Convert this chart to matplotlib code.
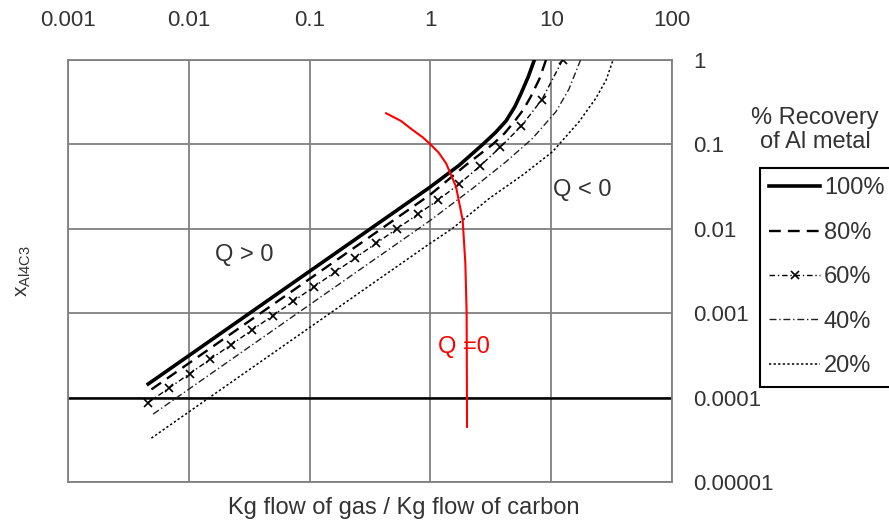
import matplotlib
matplotlib.use("Agg")
import matplotlib.pyplot as plt

plt.rcParams['font.family'] = ['Liberation Sans', 'DejaVu Sans']
plt.rcParams['mathtext.fontset'] = 'custom'
plt.rcParams['mathtext.rm'] = 'Liberation Sans'
plt.rcParams['mathtext.it'] = 'Liberation Sans'

TXT = '#333333'

# --- data ---
x100 = [0.00461, 0.01, 0.1, 1.0, 1.74, 2.71, 3.45, 4.23, 5.0, 5.62, 6.45, 7.25]
y100 = [1.45e-4, 3.14e-4, 3.14e-3, 0.0314, 0.057, 0.1, 0.138, 0.19, 0.28, 0.40, 0.63, 1.0]

x80 = [0.0049, 0.01, 0.1, 1.0, 1.97, 3.27, 4.1, 4.95, 5.9, 6.79, 8.0, 9.05]
y80 = [1.25e-4, 2.55e-4, 2.55e-3, 0.0255, 0.057, 0.1, 0.135, 0.186, 0.26, 0.37, 0.6, 1.0]

x60 = [0.00461, 0.00685, 0.01016, 0.01508, 0.02239, 0.03323, 0.04932,
       0.07318, 0.1086, 0.1612, 0.2393, 0.3552, 0.5272, 0.7824, 1.161,
       1.724, 2.559, 3.797, 5.636, 8.365, 12.42]
y60 = [8.73e-5, 1.296e-4, 1.923e-4, 2.854e-4, 4.236e-4, 6.288e-4, 9.33e-4,
       1.385e-3, 2.056e-3, 3.05e-3, 4.53e-3, 6.72e-3, 9.98e-3, 0.0148, 0.022,
       0.0339, 0.055, 0.093, 0.164, 0.339, 1.0]

x40 = [0.00507, 0.0316, 0.1, 0.316, 1.0, 2.24, 4.23, 7.01, 10.94, 14.0, 17.5]
y40 = [6.38e-5, 3.98e-4, 1.26e-3, 3.98e-3, 0.0126, 0.0302, 0.0624, 0.118, 0.244, 0.45, 1.0]

x20 = [0.0049, 0.0316, 0.1, 0.316, 1.0, 1.528, 3.076, 5.794, 10.26, 17.0, 23.4, 28.5, 32.5]
y20 = [3.31e-5, 2.14e-4, 6.76e-4, 2.14e-3, 6.76e-3, 0.01014, 0.02296, 0.04335,
       0.082, 0.1858, 0.3516, 0.58, 1.0]

# Q = 0 boundary (red)
xq = [0.430, 0.570, 0.714, 0.860, 0.982, 1.17, 1.349, 1.63, 1.85, 1.946, 1.995, 2.01]
yq = [0.234, 0.19, 0.148, 0.122, 0.103, 0.080, 0.0597, 0.0315, 0.0127, 3.94e-3, 1.0e-3, 4.5e-5]

xticks = [0.001, 0.01, 0.1, 1, 10, 100]
xtick_labels = ['0.001', '0.01', '0.1', '1', '10', '100']
yticks = [1e-5, 1e-4, 1e-3, 1e-2, 1e-1, 1]
ytick_labels = ['0.00001', '0.0001', '0.001', '0.01', '0.1', '1']

fig = plt.figure(figsize=(8.89, 5.22), dpi=100)
ax = fig.add_axes([0.0765, 0.0766, 0.6794, 0.8084])

ax.set_xscale('log')
ax.set_yscale('log')
ax.set_xlim(0.001, 100)
ax.set_ylim(1e-5, 1)

ax.grid(True, which='major', color='#808080', lw=1.3)
ax.axhline(1e-4, color='black', lw=1.8, zorder=2)

# recovery curves
ax.plot(x100, y100, color='black', lw=2.6, label='100%', zorder=5)
ax.plot(x80, y80, color='black', lw=1.7, ls=(0, (5, 3)), label='80%', zorder=5)
ax.plot(x60, y60, color='black', lw=1.0, ls=(0, (4, 2, 1, 2)), marker='x',
        ms=6, mew=1.2, label='60%', zorder=5)
ax.plot(x40, y40, color='#222222', lw=1.0, ls=(0, (5, 2, 1, 2)), label='40%', zorder=5)
ax.plot(x20, y20, color='black', lw=1.1, ls=(0, (1.5, 1.5)), label='20%', zorder=5)

ax.plot(xq, yq, color='red', lw=1.5, zorder=6)

ax.text(0.029, 0.0049, 'Q > 0', fontsize=17, color=TXT, ha='center', va='center')
ax.text(18.0, 0.0288, 'Q < 0', fontsize=17, color=TXT, ha='center', va='center')
ax.text(1.91, 4.0e-4, 'Q =0', fontsize=17, color='red', ha='center', va='center')

# ticks on top / right
ax.xaxis.tick_top()
ax.yaxis.tick_right()
ax.set_xticks(xticks)
ax.set_xticklabels(xtick_labels)
ax.set_yticks(yticks)
ax.set_yticklabels(ytick_labels)
ax.minorticks_off()
ax.tick_params(axis='x', length=0, pad=21, labelsize=16, labelcolor=TXT)
ax.tick_params(axis='y', length=0, pad=15, labelsize=16, labelcolor=TXT)

for s in ax.spines.values():
    s.set_color('#808080')
    s.set_linewidth(1.3)

ax.xaxis.set_label_position('bottom')
ax.set_xlabel('Kg flow of gas / Kg flow of carbon', fontsize=17, color=TXT)
ax.xaxis.set_label_coords((404 - 68) / 604, -0.036)
ax.xaxis.label.set_va('top')
ax.set_ylabel(r'x$_{\mathregular{Al4C3}}$', fontsize=15, color=TXT)
ax.yaxis.set_label_position('left')
ax.yaxis.set_label_coords(-0.058, 0.5)

leg = fig.legend(loc='upper left', bbox_to_anchor=(760 / 889, 1 - 168 / 522),
                 borderaxespad=0, fontsize=17, numpoints=1, handlelength=2.15,
                 handletextpad=0.15, labelspacing=0.95, borderpad=0.4,
                 fancybox=False, framealpha=1, edgecolor='black')
leg.get_frame().set_linewidth(1.5)
for t in leg.get_texts():
    t.set_color(TXT)

fig.text(815 / 889, 1 - 130 / 522, '% Recovery\nof Al metal', fontsize=17,
         color=TXT, ha='center', va='center', linespacing=1.1)

fig.savefig('out.png', dpi=100)
